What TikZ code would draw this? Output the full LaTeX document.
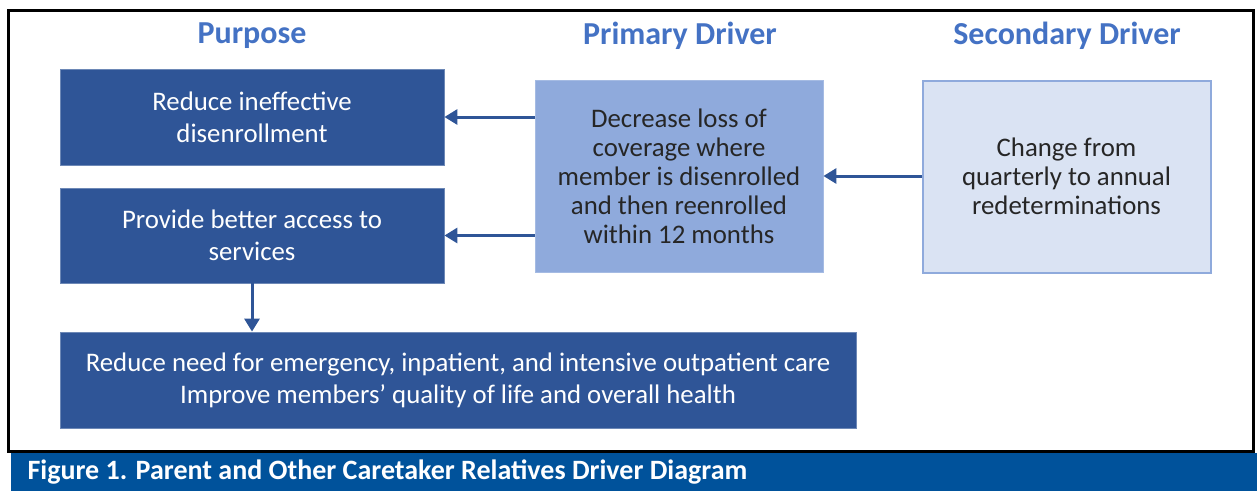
\documentclass[tikz,border=0pt]{standalone}
\usepackage{fontspec}
\setmainfont{Carlito}
\usetikzlibrary{arrows.meta}
\definecolor{darkbox}{RGB}{47,85,151}
\definecolor{midbox}{RGB}{143,170,220}
\definecolor{lightbox}{RGB}{218,227,243}
\definecolor{headblue}{RGB}{68,114,196}
\definecolor{capblue}{RGB}{0,82,155}
\definecolor{boxtext}{RGB}{38,38,38}
\begin{document}
\begin{tikzpicture}[x=1pt,y=-1pt,
    purposebox/.style={draw=darkbox!70!white,line width=0.8pt,fill=darkbox,text=white,
      align=center,inner sep=0pt,font=\fontsize{26.8}{32}\selectfont},
    driverbox/.style={align=center,inner sep=0pt,text=boxtext,
      font=\fontsize{26.8}{29}\selectfont},
    heading/.style={text=headblue,font=\fontsize{32}{36}\selectfont\bfseries},
    arr/.style={darkbox,line width=3pt,-{Triangle[length=13pt,width=15pt]}}]
  \useasboundingbox (0,0) rectangle (1257,491);
  % frame and caption bar
  \draw[line width=3.5pt] (8.5,10.5) rectangle (1253.5,451.5);
  \fill[capblue] (11,453) rectangle (1257,491);
  \node[anchor=west,text=white,font=\fontsize{28}{30}\selectfont\bfseries] (caption) at (24,472)
    {Figure 1. Parent and Other Caretaker Relatives Driver Diagram};
  % column headings
  \node[heading] (hpurpose) at (252,36) {Purpose};
  \node[heading] (hprimary) at (680,36) {Primary Driver};
  \node[heading] (hsecondary) at (1067,36) {Secondary Driver};
  % purpose boxes
  \node[purposebox,minimum width=384pt,minimum height=96pt] (p1) at (252,117)
    {Reduce ineffective\\disenrollment};
  \node[purposebox,minimum width=384pt,minimum height=95pt] (p2) at (252,235.5)
    {Provide better access to\\services};
  \node[purposebox,minimum width=796pt,minimum height=96pt] (p3) at (458,380)
    {Reduce need for emergency, inpatient, and intensive outpatient care\\
     Improve members’ quality of life and overall health};
  % drivers
  \node[driverbox,draw=midbox!80!white,line width=0.8pt,fill=midbox,
    minimum width=288pt,minimum height=192pt] (primary) at (679,176)
    {Decrease loss of\\coverage where\\member is disenrolled\\and then reenrolled\\within 12 months};
  \node[driverbox,draw=midbox,line width=2pt,fill=lightbox,
    minimum width=288pt,minimum height=192pt] (secondary) at (1066.5,176.5)
    {Change from\\quarterly to annual\\redeterminations};
  % connectors
  \begin{scope}[arr]
    \draw (primary.west |- p1.east) -- (p1.east);
    \draw (primary.west |- p2.east) -- (p2.east);
    \draw (secondary.west |- primary.east) -- (primary.east);
    \draw (p2.south) -- (p2.south |- p3.north);
  \end{scope}
\end{tikzpicture}
\end{document}
